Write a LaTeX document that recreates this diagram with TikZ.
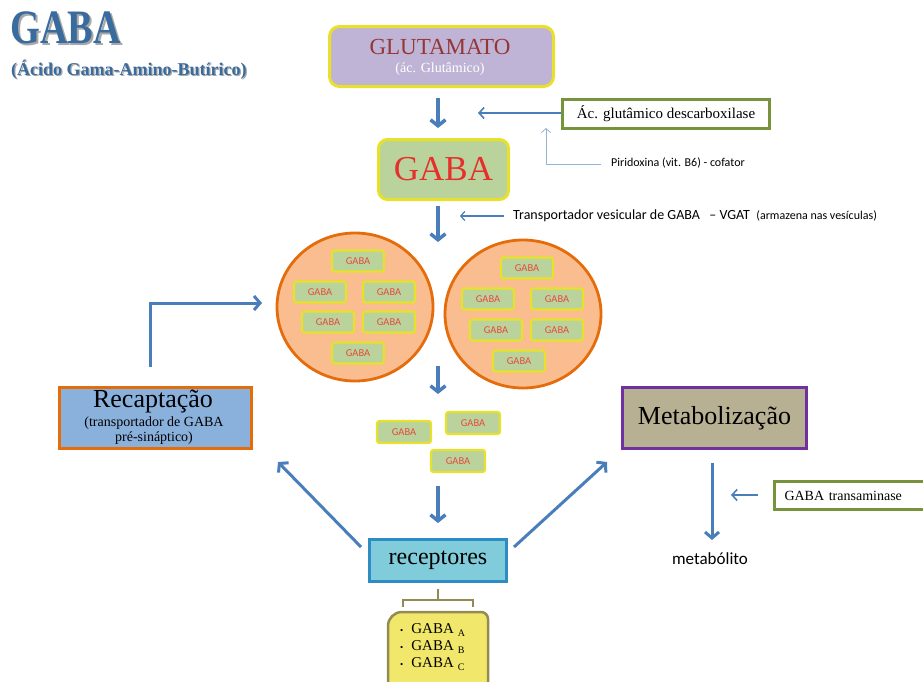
\documentclass[tikz,border=0pt]{standalone}
\usepackage{fontspec}
\setmainfont{Liberation Serif}
\newfontfamily\sansf{Carlito}
\usetikzlibrary{arrows.meta,shapes.geometric}
\definecolor{tblue}{HTML}{3A6B9E}
\definecolor{tshadow}{HTML}{A8A8A8}
\definecolor{ablue}{HTML}{4A7EBB}
\definecolor{lblue}{HTML}{95B3D7}
\definecolor{gyellow}{HTML}{E8E12C}
\definecolor{lav}{HTML}{BFB4D6}
\definecolor{glutred}{HTML}{953735}
\definecolor{ggreen}{HTML}{BAD39C}
\definecolor{gred}{HTML}{E5302B}
\definecolor{sred}{HTML}{E8493C}
\definecolor{cfill}{HTML}{F9BD8F}
\definecolor{cdraw}{HTML}{E46C0A}
\definecolor{recfill}{HTML}{8AB0DC}
\definecolor{metfill}{HTML}{B8B093}
\definecolor{metdraw}{HTML}{7030A0}
\definecolor{rfill}{HTML}{80CCDA}
\definecolor{rdraw}{HTML}{2E8CC4}
\definecolor{egreen}{HTML}{77933C}
\definecolor{olive}{HTML}{948A54}
\definecolor{ylw}{HTML}{F1E76B}
\newcommand{\shadowtext}[3]{{\color{tshadow}\rlap{\hspace{#1}\raisebox{-#1}{#3}}}{\color{#2}#3}}
\tikzset{
  sgaba/.style={draw=gyellow, line width=2.2pt, fill=ggreen, rounded corners=2.5pt,
    minimum width=52pt, minimum height=21pt, inner sep=0pt,
    font=\sansf\fontsize{10.5}{12}\selectfont, text=sred},
  bigarrow/.style={draw=ablue, line width=3.5pt, -{Straight Barb[length=6pt,width=15pt]}},
  midarrow/.style={draw=ablue, line width=3pt, -{Straight Barb[length=6pt,width=14pt]}},
  enzbox/.style={draw=egreen, line width=3pt, fill=white, inner sep=0pt, anchor=north west},
  vesicle/.style={ellipse, draw=cdraw, fill=cfill, line width=2.8pt, minimum width=156pt, minimum height=148pt},
  gitem/.style={anchor=west, font=\fontsize{15}{17}\selectfont, inner sep=0pt},
}
\newcommand{\gabaitem}[1]{{\fontsize{9}{9}\selectfont •}\hspace{8pt}GABA\hspace{4pt}\raisebox{-3pt}{\fontsize{10}{10}\selectfont #1}}
\begin{document}
\begin{tikzpicture}[x=1pt,y=-1pt]
\path[use as bounding box] (0,0) rectangle (923,681);
% title
\node[font=\bfseries\fontsize{48}{50}\selectfont, xscale=0.8, anchor=west, inner sep=0pt] (title) at (10,29) {\shadowtext{2.5pt}{tblue}{GABA}};
\node[font=\bfseries\fontsize{18}{20}\selectfont, anchor=west, inner sep=0pt] (sub) at (11,70.5) {\shadowtext{1.3pt}{tblue}{(Ácido Gama-Amino-Butírico)}};
% glutamato
\node[draw=gyellow, fill=lav, line width=3pt, rounded corners=10pt, minimum width=224pt, minimum height=60pt, inner sep=0pt, anchor=north west] (glu) at (328,25) {};
\node[text=glutred, font=\fontsize{23}{26}\selectfont] (glut) at (440,47) {GLUTAMATO};
\node[text=white, font=\fontsize{14}{16}\selectfont] (glus) at (440,69) {(ác. Glutâmico)};
% GABA main
\node[draw=gyellow, fill=ggreen, line width=3pt, rounded corners=9pt, minimum width=130pt, minimum height=60pt, inner sep=0pt, anchor=north west, text=gred, font=\fontsize{35}{38}\selectfont] (gaba) at (377,138) {GABA};
\draw[bigarrow] (438,98) coordinate (a1) -- (438,128) coordinate (a1e);
% enzyme
\node[enzbox, minimum width=207pt, minimum height=29pt, font=\fontsize{15}{17}\selectfont] (dec) at (561,98) {Ác. glutâmico descarboxilase};
\coordinate (decend) at (478,113);
\draw[draw=ablue, line width=1.6pt, -{Straight Barb[length=5pt,width=11pt]}] (dec.west |- decend) -- (decend);
% piridoxina
\node[anchor=west, font=\sansf\fontsize{12}{14}\selectfont, inner sep=0pt] (pir) at (611,163) {Piridoxina (vit. B6) - cofator};
\coordinate (pirc) at (546,164);
\draw[draw=lblue, line width=0.8pt, -{Straight Barb[length=4pt,width=9pt]}] (601,164) -- (pirc) -- (546,128);
% arrow to vesicles
\draw[bigarrow] (438,206) -- (438,242);
\node[anchor=west, font=\sansf\fontsize{14}{16}\selectfont, inner sep=0pt] (vgat) at (513,216) {Transportador vesicular de GABA \ \ – VGAT \ {\fontsize{12}{13}\selectfont (armazena nas vesículas)}};
\draw[draw=ablue, line width=1.2pt, -{Straight Barb[length=4pt,width=9pt]}] (504,216) -- (460,216);
% vesicles
\node[vesicle] (v1) at (355,307) {};
\node[vesicle] (v2) at (523,314) {};
\foreach \n/\x/\y in {l1/358/261, l2/320/292, l3/389/292, l4/328/322, l5/389/322, l6/358/353,
                      r1/527/268, r2/488/299, r3/557/299, r4/496/330, r5/557/330, r6/519/361}
  \node[sgaba] (\n) at (\x,\y) {GABA};
\draw[bigarrow] (438,366) -- (438,394);
% released
\node[sgaba, minimum width=54pt, minimum height=22pt] (f1) at (404,432) {GABA};
\node[sgaba, minimum width=54pt, minimum height=22pt] (f2) at (473,423) {GABA};
\node[sgaba, minimum width=54pt, minimum height=22pt] (f3) at (458,461) {GABA};
\draw[bigarrow] (438,486) -- (438,523);
% receptores
\node[draw=rdraw, fill=rfill, line width=3pt, minimum width=137pt, minimum height=42pt, inner sep=0pt, font=\fontsize{24}{26}\selectfont] (rec) at (438,560) {receptores};
% bracket
\draw[draw=olive, line width=2.5pt] (438,589) coordinate (b0) -- (438,600) coordinate (bm);
\draw[draw=olive, line width=2.5pt] (403,607) -- (403,600) -- (473,600) -- (473,607);
% receptor list box
\draw[draw=olive, fill=ylw, line width=2.5pt] (388,695) [rounded corners=14pt] -- (388,612) [rounded corners=7pt] -- (488,612) -- (488,695);
\node[gitem] (ga) at (400,630) {\gabaitem{A}};
\node[gitem] (gb) at (400,647) {\gabaitem{B}};
\node[gitem] (gc) at (400,664) {\gabaitem{C}};
% recaptação
\node[draw=cdraw, fill=recfill, line width=3pt, minimum width=192pt, minimum height=61pt, inner sep=0pt, anchor=north west] (recap) at (58,386) {};
\node[font=\fontsize{26}{28}\selectfont, inner sep=0pt] (recapt) at (153,401) {Recaptação};
\node[font=\fontsize{14}{16}\selectfont, align=center, inner sep=0pt] (recaps) at (154,431) {(transportador de GABA\\[-1pt] pré-sináptico)};
\draw[midarrow] (150,367) -- (150,303) -- (262,303);
% metabolização
\node[draw=metdraw, fill=metfill, line width=3pt, minimum width=184pt, minimum height=61pt, inner sep=0pt, anchor=north west, font=\fontsize{26}{28}\selectfont] (met) at (621,386) {Metabolização};
\draw[midarrow] (712,463) -- (712,540) coordinate (metend);
\node[font=\sansf\fontsize{17}{19}\selectfont, inner sep=0pt] (metab) at (710,559) {metabólito};
\node[enzbox, minimum width=160pt, minimum height=28pt, font=\fontsize{14}{16}\selectfont, text width=150pt, align=left, inner xsep=10pt] (trans) at (773,480) {GABA transaminase};
\draw[draw=ablue, line width=1.6pt, -{Straight Barb[length=5pt,width=11pt]}] (758,495) -- (731,495);
% diagonal arrows
\draw[midarrow] (361,547) -- (278,462);
\draw[midarrow] (514,547) -- (607,462);
\end{tikzpicture}
\end{document}
